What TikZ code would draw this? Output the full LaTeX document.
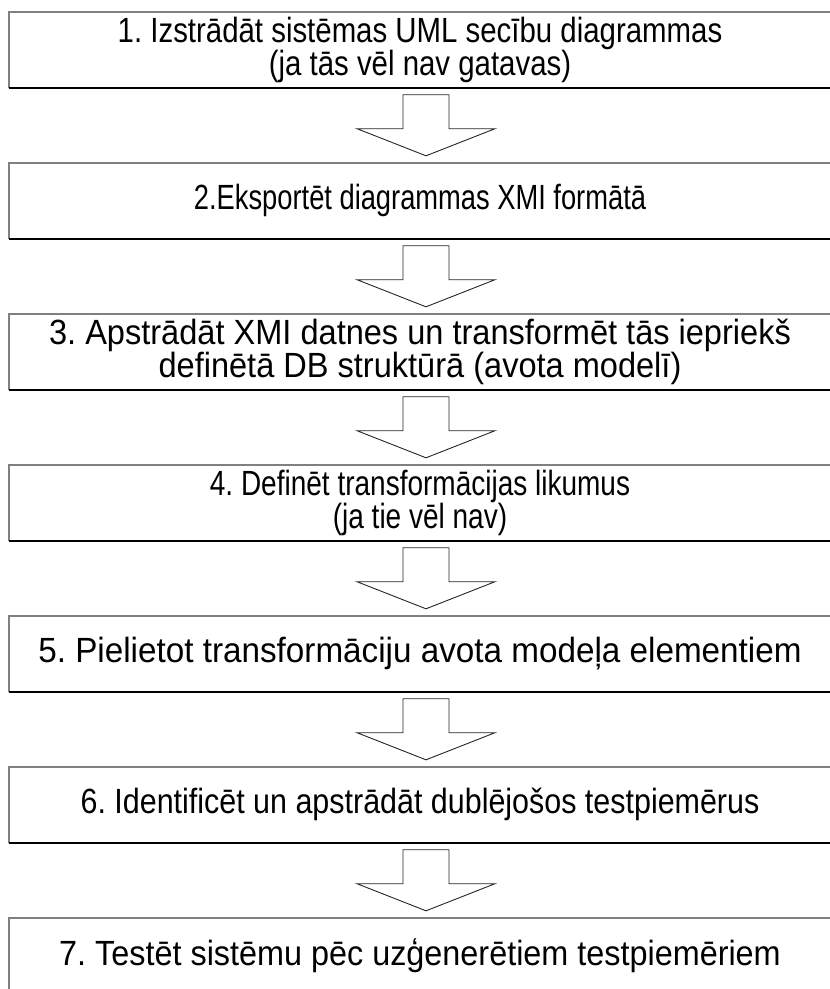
\documentclass[tikz,border=0pt]{standalone}
\usepackage{fontspec}
\setmainfont{Liberation Sans}
\usetikzlibrary{calc}
\tikzset{
  stepbox/.style={rectangle, minimum width=822pt, minimum height=75.5pt, inner sep=0pt,
    align=center, font={\fontsize{35}{33}\selectfont\frenchspacing\addfontfeature{FakeStretch=#1}}},
  topedge/.style={draw=black!50, line width=1.6pt},
  botedge/.style={draw=black, line width=1.6pt},
  blockarrow/.style={draw=black!85, line width=0.9pt, line join=miter}
}
\newcommand\boxedges[1]{%
  \draw[topedge] (#1.south west) -- (#1.north west) -- ([xshift=20pt]#1.north east);
  \draw[botedge] (#1.south west) -- ([xshift=20pt]#1.south east);}
\newcommand\flowarrow[2]{%
  \draw[blockarrow] ($(#1.south)+(-17,7)$) -- ($(#1.south)+(29,7)$)
    -- ($(#1.south)+(29,41)$) -- ($(#1.south)+(75,41)$)
    -- ($(#2.north)+(6,-7)$)
    -- ($(#1.south)+(-63,41)$) -- ($(#1.south)+(-17,41)$) -- cycle;}
\begin{document}
\begin{tikzpicture}[x=1pt,y=-1pt]
\useasboundingbox (0,0) rectangle (830,989);
\clip (0,0) rectangle (830,989);
\node[stepbox=0.84] (b1) at (420,49.75) {1. Izstrādāt sistēmas UML secību diagrammas\\(ja tās vēl nav gatavas)};
\node[stepbox=0.78] (b2) at (420,200.75) {2.Eksportēt diagrammas XMI formātā};
\node[stepbox=0.93] (b3) at (420,351.75) {3. Apstrādāt XMI datnes un transformēt tās iepriekš\\definētā DB struktūrā (avota modelī)};
\node[stepbox=0.80] (b4) at (420,502.75) {4. Definēt transformācijas likumus\\(ja tie vēl nav)};
\node[stepbox=0.95] (b5) at (420,653.75) {5. Pielietot transformāciju avota modeļa elementiem};
\node[stepbox=0.87] (b6) at (420,804.75) {6. Identificēt un apstrādāt dublējošos testpiemērus};
\node[stepbox=0.925] (b7) at (420,955.75) {7. Testēt sistēmu pēc uzģenerētiem testpiemēriem};
\foreach \b in {b1,b2,b3,b4,b5,b6,b7} {\boxedges{\b}}
\flowarrow{b1}{b2}
\flowarrow{b2}{b3}
\flowarrow{b3}{b4}
\flowarrow{b4}{b5}
\flowarrow{b5}{b6}
\flowarrow{b6}{b7}
\end{tikzpicture}
\end{document}
